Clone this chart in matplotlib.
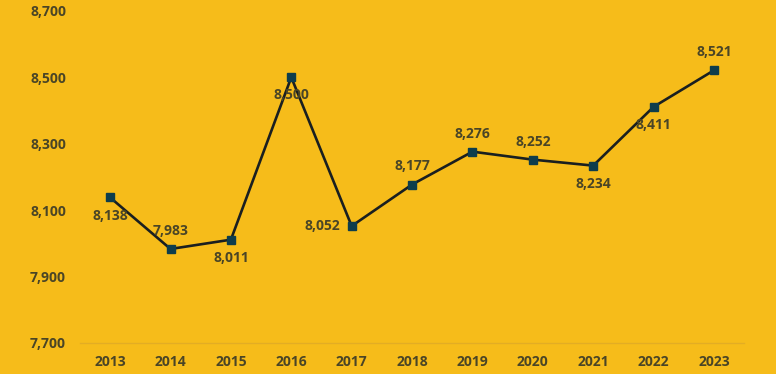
import matplotlib.pyplot as plt

years = [2013, 2014, 2015, 2016, 2017, 2018, 2019, 2020, 2021, 2022, 2023]
values = [8138, 7983, 8011, 8500, 8052, 8177, 8276, 8252, 8234, 8411, 8521]
# where each value label sits relative to its point
label_pos = ['below', 'above', 'below', 'below', 'left', 'above',
             'above', 'above', 'below', 'below', 'above']
y_ticks = [7700, 7900, 8100, 8300, 8500, 8700]

bg = '#F6BC1A'
text_color = '#4a4526'
line_color = '#1a1f20'
marker_color = '#0e3d4c'

plt.rcParams['font.family'] = ['Open Sans', 'DejaVu Sans']

fig = plt.figure(figsize=(7.76, 3.74), dpi=100, facecolor=bg)
ax = fig.add_axes([0.103, 0.083, 0.856, 0.888], facecolor=bg)

ax.plot(years, values, color=line_color, linewidth=1.9, marker='s',
        markersize=6, markerfacecolor=marker_color, markeredgecolor=marker_color,
        zorder=3)

offsets = {'above': (0, 8, 'center', 'bottom'),
           'below': (0, -8, 'center', 'top'),
           'left': (-8, 0, 'right', 'center')}
for x, y, p in zip(years, values, label_pos):
    dx, dy, ha, va = offsets[p]
    ax.annotate(f'{y:,}', (x, y), xytext=(dx, dy), textcoords='offset points',
                ha=ha, va=va, fontsize=10, fontweight='bold', color=text_color,
                zorder=4)

ax.set_xlim(2012.5, 2023.5)
ax.set_ylim(7700, 8700)
ax.set_xticks(years)
ax.set_xticklabels([str(y) for y in years])
ax.set_yticks(y_ticks)
ax.set_yticklabels([f'{t:,}' for t in y_ticks])
ax.tick_params(axis='y', length=0, labelsize=10, labelcolor=text_color, pad=10)
ax.tick_params(axis='x', length=0, labelsize=10, labelcolor=text_color, pad=9)
for lab in ax.get_xticklabels() + ax.get_yticklabels():
    lab.set_fontweight('bold')

for s in ['top', 'right', 'left']:
    ax.spines[s].set_visible(False)
ax.spines['bottom'].set_color('#e3ad24')
ax.spines['bottom'].set_linewidth(1)

fig.savefig('out.png', dpi=100, facecolor=bg)
